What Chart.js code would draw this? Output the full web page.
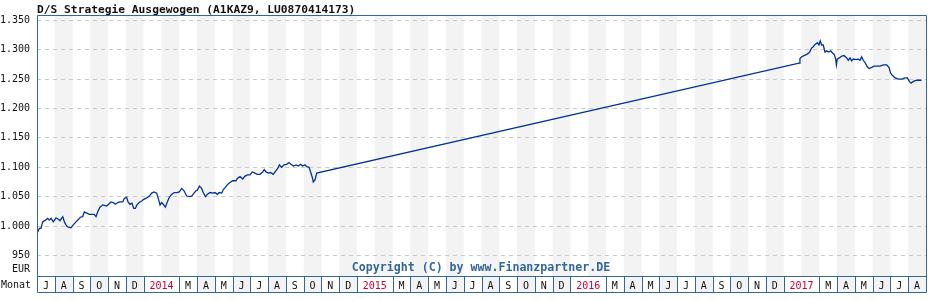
<!DOCTYPE html>
<html>
<head>
<meta charset="utf-8">
<script src="https://cdn.jsdelivr.net/npm/chart.js@4/dist/chart.umd.min.js"></script>
<style>
  html, body { margin: 0; padding: 0; background: #fff; }
  canvas { display: block; }
</style>
</head>
<body>
<canvas id="fund-chart" width="928" height="300"></canvas>
<script>
// Fund price chart, July 2013 .. August 2017
const TITLE = 'D/S Strategie Ausgewogen (A1KAZ9, LU0870414173)';
const COPYRIGHT = 'Copyright (C) by www.Finanzpartner.DE';
const START_YEAR = 2013;
const START_MONTH = 6;          // 0 = January, so July 2013
const MONTH_COUNT = 50;
const MONTH_LETTERS = ['J', 'F', 'M', 'A', 'M', 'J', 'J', 'A', 'S', 'O', 'N', 'D'];
const Y_TICKS = [950, 1000, 1050, 1100, 1150, 1200, 1250, 1300, 1350];

// x = months since 1 July 2013, value = price in EUR
const X_MONTHS = [
    0.04, 0.13, 0.22, 0.32, 0.47, 0.60, 0.69, 0.79, 0.92, 1.07, 1.22, 1.29, 1.45, 1.54, 1.67, 1.76,
    1.91, 2.04, 2.19, 2.32, 2.44, 2.57, 2.66, 2.80, 2.94, 3.09, 3.22, 3.32, 3.41, 3.54, 3.70, 3.79,
    3.92, 4.03, 4.16, 4.29, 4.40, 4.54, 4.67, 4.82, 4.91, 5.04, 5.12, 5.23, 5.34, 5.44, 5.53, 5.62,
    5.75, 5.91, 5.98, 6.17, 6.32, 6.45, 6.58, 6.73, 6.82, 6.92, 7.01, 7.10, 7.22, 7.33, 7.44, 7.58,
    7.72, 7.86, 8.00, 8.14, 8.27, 8.42, 8.57, 8.70, 8.83, 8.94, 9.02, 9.13, 9.26, 9.35, 9.47, 9.58,
    9.73, 9.88, 10.01, 10.14, 10.25, 10.39, 10.48, 10.57, 10.70, 10.85, 11.01, 11.19, 11.27, 11.42,
    11.57, 11.70, 11.83, 11.98, 12.11, 12.26, 12.39, 12.54, 12.69, 12.78, 12.88, 13.01, 13.14, 13.29,
    13.43, 13.54, 13.63, 13.76, 13.89, 14.04, 14.17, 14.29, 14.42, 14.57, 14.70, 14.83, 14.94, 15.07,
    15.17, 15.30, 15.39, 15.48, 15.54, 15.64, 15.73,
    42.86, 42.91, 43.01, 43.14, 43.29, 43.44, 43.57, 43.66, 43.76, 43.89, 43.98, 44.05, 44.13, 44.22,
    44.32, 44.41, 44.53, 44.64, 44.75, 44.84, 44.92, 44.96, 45.01, 45.12, 45.26, 45.39, 45.54, 45.63,
    45.73, 45.82, 45.91, 46.06, 46.19, 46.29, 46.38, 46.47, 46.59, 46.70, 46.81, 46.95, 47.08, 47.41,
    47.60, 47.79, 47.92, 48.01, 48.12, 48.26, 48.45, 48.64, 48.82, 48.95, 49.06, 49.16, 49.29, 49.48,
    49.75
];
const NAV = [
    990, 996, 996, 1007, 1010, 1013, 1010, 1013, 1007, 1014, 1011, 1009, 1016, 1007, 1000, 998,
    997, 1002, 1007, 1011, 1015, 1016, 1024, 1022, 1020, 1020, 1020, 1016, 1024, 1032, 1036, 1035,
    1034, 1037, 1041, 1040, 1037, 1040, 1041, 1041, 1047, 1049, 1041, 1037, 1039, 1030, 1030, 1036,
    1040, 1043, 1045, 1048, 1051, 1056, 1058, 1056, 1047, 1036, 1040, 1037, 1032, 1041, 1049, 1054,
    1057, 1057, 1058, 1064, 1060, 1051, 1050, 1051, 1056, 1060, 1061, 1068, 1064, 1057, 1050, 1054,
    1057, 1056, 1057, 1054, 1057, 1056, 1062, 1065, 1070, 1074, 1077, 1077, 1081, 1084,
    1080, 1085, 1087, 1087, 1092, 1090, 1088, 1088, 1092, 1096, 1092, 1090, 1091, 1088,
    1094, 1098, 1104, 1100, 1104, 1105, 1108, 1105, 1102, 1104, 1102, 1105, 1102, 1104,
    1101, 1100, 1092, 1083, 1075, 1079, 1090,
    1277, 1285, 1288, 1290, 1292, 1295, 1303, 1305, 1309, 1312, 1308, 1315, 1308, 1308,
    1296, 1298, 1296, 1298, 1294, 1292, 1284, 1274, 1284, 1286, 1289, 1290, 1286, 1282,
    1286, 1281, 1284, 1283, 1284, 1282, 1288, 1282, 1277, 1271, 1268, 1270, 1272, 1272,
    1274, 1274, 1270, 1260, 1256, 1252, 1250, 1250, 1252, 1252, 1246, 1243, 1246, 1248,
    1248
];

const MONO = '"DejaVu Sans Mono", "Liberation Mono", monospace';
const FRAME = '#336699';
const STRIPE = '#f3f3f3';
const ROW_H = 16;

function monthOfYear(i) { return (START_MONTH + i) % 12; }

// month letters centred in their box; January + February share one box with the year
const monthTicks = [];
for (let i = 0; i < MONTH_COUNT; i++) {
    const m = monthOfYear(i);
    if (m === 1) continue;
    if (m === 0) {
        const year = START_YEAR + Math.floor((START_MONTH + i) / 12);
        monthTicks.push({ value: i + 1, label: String(year), year: true });
    } else {
        monthTicks.push({ value: i + 0.5, label: MONTH_LETTERS[m], year: false });
    }
}

const framePlugin = {
    id: 'frame',
    beforeDraw(chart) {
        const { ctx, chartArea: a, scales: { x } } = chart;
        ctx.save();
        ctx.fillStyle = STRIPE;
        for (let i = 0; i < MONTH_COUNT; i++) {
            if (monthOfYear(i) % 2 !== 1) continue;
            const x0 = x.getPixelForValue(i);
            const x1 = x.getPixelForValue(i + 1);
            const h = monthOfYear(i) === 1 ? a.bottom - a.top : a.bottom - a.top + ROW_H;
            ctx.fillRect(x0, a.top, x1 - x0, h);
        }
        ctx.restore();
    },
    afterDraw(chart) {
        const { ctx, chartArea: a, scales: { x } } = chart;
        const bottom = a.bottom + ROW_H;
        ctx.save();
        ctx.strokeStyle = FRAME;
        ctx.lineWidth = 1;
        ctx.beginPath();
        ctx.moveTo(a.left + 0.5, bottom + 0.5);
        ctx.lineTo(a.left + 0.5, a.top + 0.5);
        ctx.lineTo(a.right + 0.5, a.top + 0.5);
        ctx.lineTo(a.right + 0.5, bottom + 0.5);
        ctx.lineTo(a.left + 0.5, bottom + 0.5);
        ctx.moveTo(a.left, a.bottom + 0.5);
        ctx.lineTo(a.right, a.bottom + 0.5);
        for (let i = 1; i < MONTH_COUNT; i++) {
            if (monthOfYear(i) === 1) continue;
            const px = Math.round(x.getPixelForValue(i)) + 0.5;
            ctx.moveTo(px, a.bottom);
            ctx.lineTo(px, bottom);
        }
        ctx.stroke();

        ctx.fillStyle = '#111';
        ctx.font = 'bold 11.25px ' + MONO;
        ctx.textBaseline = 'alphabetic';
        ctx.textAlign = 'left';
        ctx.fillText(TITLE, 37, 12.5);

        ctx.font = '10px ' + MONO;
        ctx.textAlign = 'right';
        ctx.fillText('EUR', 30, 272);
        ctx.textAlign = 'left';
        ctx.fillText('Monat', 1, 288);

        ctx.fillStyle = FRAME;
        ctx.font = 'bold 11.6px ' + MONO;
        ctx.textAlign = 'center';
        ctx.fillText(COPYRIGHT, 481, 271);
        ctx.restore();
    }
};

new Chart(document.getElementById('fund-chart'), {
    type: 'line',
    data: {
        datasets: [{
            data: X_MONTHS.map((m, i) => ({ x: m, y: NAV[i] })),
            borderColor: '#003399',
            borderWidth: 1.3,
            pointRadius: 0,
            tension: 0,
            fill: false,
        }]
    },
    options: {
        responsive: false,
        animation: false,
        layout: { padding: { left: 0, right: 2, top: 15, bottom: 0 } },
        scales: {
            x: {
                type: 'linear',
                min: 0,
                max: MONTH_COUNT,
                grid: { display: false, drawTicks: false },
                border: { display: false },
                afterBuildTicks: (scale) => { scale.ticks = monthTicks.map(t => ({ value: t.value })); },
                afterFit: (scale) => { scale.height = 300 - 276; },
                ticks: {
                    autoSkip: false,
                    maxRotation: 0,
                    padding: 4,
                    font: { family: MONO, size: 10 },
                    color: (c) => (monthTicks[c.index] && monthTicks[c.index].year ? '#cc0033' : '#111'),
                    callback: (v, i) => monthTicks[i].label,
                }
            },
            y: {
                min: 915,
                max: 1359,
                afterBuildTicks: (scale) => { scale.ticks = Y_TICKS.map(v => ({ value: v })); },
                afterFit: (scale) => { scale.width = 37; },
                grid: { color: '#c8c8c8', lineWidth: 1, drawTicks: false },
                border: { display: false, dash: [4, 4] },
                ticks: {
                    padding: 7,
                    font: { family: MONO, size: 10 },
                    color: '#111',
                    callback: (v) => v.toLocaleString('de-DE', { maximumFractionDigits: 0 }),
                }
            }
        },
        plugins: {
            legend: { display: false },
            tooltip: { enabled: false },
        }
    },
    plugins: [framePlugin]
});
</script>
</body>
</html>
